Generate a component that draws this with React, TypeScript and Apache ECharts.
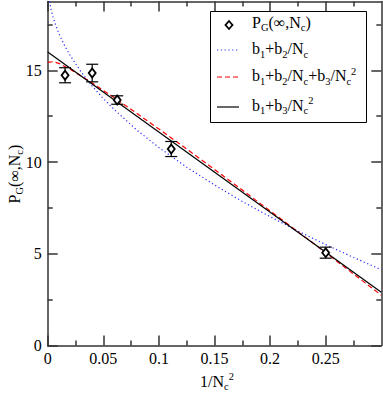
import React, { useEffect, useRef } from "react";
import * as echarts from "echarts";

// ---- data ----
const X_TICKS = [0, 0.05, 0.1, 0.15, 0.2, 0.25];
const X_MINOR = [0.025, 0.075, 0.125, 0.175, 0.225, 0.275];
const Y_TICKS = [0, 5, 10, 15];
const Y_MINOR = [2.5, 7.5, 12.5, 17.5];

const ptX = [0.015625, 0.04, 0.0625, 0.1111, 0.25];
const ptY = [14.73, 14.85, 13.38, 10.71, 5.06];
const ptErr = [0.41, 0.48, 0.23, 0.41, 0.3];

// b1 + b2/Nc (blue dotted)
const blueX = [0.0016, 0.003, 0.005, 0.0075, 0.01, 0.015, 0.02, 0.03, 0.04, 0.05, 0.06, 0.08, 0.1, 0.125, 0.15, 0.175, 0.2, 0.225, 0.25, 0.275, 0.3];
const blueY = [18.75, 18.32, 17.86, 17.41, 17.02, 16.37, 15.83, 14.91, 14.14, 13.46, 12.85, 11.75, 10.79, 9.72, 8.75, 7.85, 7.02, 6.24, 5.5, 4.8, 4.13];

// b1 + b2/Nc + b3/Nc^2 (red dashed)
const redX = [0, 0.005, 0.01, 0.02, 0.03, 0.04, 0.06, 0.08, 0.1, 0.125, 0.15, 0.175, 0.2, 0.225, 0.25, 0.275, 0.3];
const redY = [15.43, 15.47, 15.38, 15.06, 14.69, 14.31, 13.5, 12.66, 11.8, 10.71, 9.6, 8.47, 7.34, 6.2, 5.06, 3.9, 2.74];

// b1 + b3/Nc^2 (black solid)
const blackX = [0, 0.3];
const blackY = [16.0, 2.9];

const X_MIN = 0, X_MAX = 0.3, Y_MIN = 0, Y_MAX = 18.75;

const FONT = "Liberation Serif";
const FRAME = "#333";

function zip(xs: number[], ys: number[]) {
  return xs.map((x, i) => [x, ys[i]]);
}

const fmtX = (v: number) => (Math.abs(v) < 1e-9 ? "0" : String(+Number(v).toFixed(2)));

function xAxisDef(position: "top" | "bottom", ticks: number[], len: number, main: boolean, labels: boolean) {
  return {
    type: "value",
    position,
    min: X_MIN,
    max: X_MAX,
    axisLine: { show: main, onZero: false, lineStyle: { color: FRAME, width: 1.5 } },
    axisTick: { show: true, inside: true, length: len, customValues: ticks, lineStyle: { color: FRAME, width: 1.5 } },
    axisLabel: labels
      ? { show: true, customValues: ticks, formatter: fmtX, fontFamily: FONT, fontSize: 16, color: "#000", margin: 5 }
      : { show: false },
    splitLine: { show: false },
  };
}

function yAxisDef(position: "left" | "right", ticks: number[], len: number, main: boolean, labels: boolean) {
  return {
    type: "value",
    position,
    min: Y_MIN,
    max: Y_MAX,
    axisLine: { show: main, onZero: false, lineStyle: { color: FRAME, width: 1.5 } },
    axisTick: { show: true, inside: true, length: len, customValues: ticks, lineStyle: { color: FRAME, width: 1.5 } },
    axisLabel: labels
      ? { show: true, customValues: ticks, formatter: (v: number) => String(v), fontFamily: FONT, fontSize: 16, color: "#000", margin: 6 }
      : { show: false },
    splitLine: { show: false },
  };
}

const rich = {
  m: { fontFamily: FONT, fontSize: 16, color: "#000" },
  sub: { fontFamily: FONT, fontSize: 10.5, color: "#000", padding: [11, 0, 0, 0] },
  sup: { fontFamily: FONT, fontSize: 10.5, color: "#000", padding: [0, 0, 9, 0] },
};

export default function App() {
  const ref = useRef<HTMLDivElement>(null);
  useEffect(() => {
    if (!ref.current) return;
    const chart = echarts.init(ref.current, undefined, { renderer: "svg" });
    const legendX = 252;
    const option: any = {
      animation: false,
      backgroundColor: "#fff",
      grid: { left: 47.7, right: 1.7, top: 1.5, bottom: 49.5, containLabel: false },
      xAxis: [
        xAxisDef("bottom", X_TICKS, 10, true, true),
        xAxisDef("bottom", X_MINOR, 5, false, false),
        xAxisDef("top", X_TICKS, 10, true, false),
        xAxisDef("top", X_MINOR, 5, false, false),
      ],
      yAxis: [
        yAxisDef("left", Y_TICKS, 10, true, true),
        yAxisDef("left", Y_MINOR, 5, false, false),
        yAxisDef("right", Y_TICKS, 10, true, false),
        yAxisDef("right", Y_MINOR, 5, false, false),
      ],
      series: [
        {
          type: "line",
          data: zip(blueX, blueY),
          showSymbol: false,
          symbol: "none",
          clip: true,
          lineStyle: { color: "#2a2aff", width: 1.2, type: [1.2, 2.6] },
          z: 2,
        },
        {
          type: "line",
          data: zip(redX, redY),
          showSymbol: false,
          symbol: "none",
          clip: true,
          lineStyle: { color: "#ff0000", width: 1.2, type: [5, 3] },
          z: 3,
        },
        {
          type: "line",
          data: zip(blackX, blackY),
          showSymbol: false,
          symbol: "none",
          clip: true,
          lineStyle: { color: "#000", width: 1.2 },
          z: 4,
        },
        {
          type: "custom",
          data: ptX.map((x, i) => [x, ptY[i], ptErr[i]]),
          renderItem: (params: any, api: any) => {
            const x = api.value(0), y = api.value(1), e = api.value(2);
            const top = api.coord([x, y + e]);
            const bot = api.coord([x, y - e]);
            const hw = 6;
            const st = { stroke: "#000", lineWidth: 1.2 };
            return {
              type: "group",
              children: [
                { type: "line", shape: { x1: top[0], y1: top[1], x2: bot[0], y2: bot[1] }, style: st },
                { type: "line", shape: { x1: top[0] - hw, y1: top[1], x2: top[0] + hw, y2: top[1] }, style: st },
                { type: "line", shape: { x1: bot[0] - hw, y1: bot[1], x2: bot[0] + hw, y2: bot[1] }, style: st },
              ],
            };
          },
          z: 5,
        },
        {
          type: "scatter",
          data: zip(ptX, ptY),
          symbol: "diamond",
          symbolSize: [7, 9],
          itemStyle: { color: "#fff", borderColor: "#000", borderWidth: 1.8, opacity: 1 },
          z: 6,
        },
      ],
      graphic: [
        {
          type: "rect",
          shape: { x: 210.5, y: 11.5, width: 156, height: 111 },
          style: { fill: "#fff", stroke: "#000", lineWidth: 1 },
          z: 100,
        },
        {
          type: "polygon",
          shape: { points: [[229, 21], [232.5, 25], [229, 29], [225.5, 25]] },
          style: { fill: "#fff", stroke: "#000", lineWidth: 1.8 },
          z: 101,
        },
        {
          type: "line",
          shape: { x1: 217, y1: 50, x2: 239, y2: 50 },
          style: { stroke: "#2a2aff", lineWidth: 1.2, lineDash: [1.2, 2.6] },
          z: 101,
        },
        {
          type: "line",
          shape: { x1: 217, y1: 77, x2: 239, y2: 77 },
          style: { stroke: "#ff0000", lineWidth: 1.2, lineDash: [5, 3] },
          z: 101,
        },
        {
          type: "line",
          shape: { x1: 217, y1: 107, x2: 239, y2: 107 },
          style: { stroke: "#000", lineWidth: 1.2 },
          z: 101,
        },
        {
          type: "text",
          x: legendX,
          y: 22,
          z: 101,
          style: { text: "{m|P}{sub|G}{m|(∞,N}{sub|c}{m|)}", rich, verticalAlign: "middle", align: "left" },
        },
        {
          type: "text",
          x: legendX,
          y: 48.5,
          z: 101,
          style: { text: "{m|b}{sub|1}{m|+b}{sub|2}{m|/N}{sub|c}", rich, verticalAlign: "middle", align: "left" },
        },
        {
          type: "text",
          x: legendX,
          y: 75.5,
          z: 101,
          style: { text: "{m|b}{sub|1}{m|+b}{sub|2}{m|/N}{sub|c}{m|+b}{sub|3}{m|/N}{sub|c}{sup|2}", rich, verticalAlign: "middle", align: "left" },
        },
        {
          type: "text",
          x: legendX,
          y: 105,
          z: 101,
          style: { text: "{m|b}{sub|1}{m|+b}{sub|3}{m|/N}{sub|c}{sup|2}", rich, verticalAlign: "middle", align: "left" },
        },
        {
          type: "text",
          x: 217,
          y: 381,
          z: 101,
          style: { text: "{m|1/N}{sub|c}{sup|2}", rich, verticalAlign: "middle", align: "center" },
        },
        {
          type: "text",
          x: 14,
          y: 174,
          rotation: Math.PI / 2,
          z: 101,
          style: { text: "{m|P}{sub|G}{m|(∞,N}{sub|c}{m|)}", rich, verticalAlign: "middle", align: "center" },
        },
      ],
    };
    chart.setOption(option);
    return () => chart.dispose();
  }, []);
  return <div ref={ref} style={{ position: "fixed", left: 0, top: 0, width: 383, height: 395 }} />;
}
